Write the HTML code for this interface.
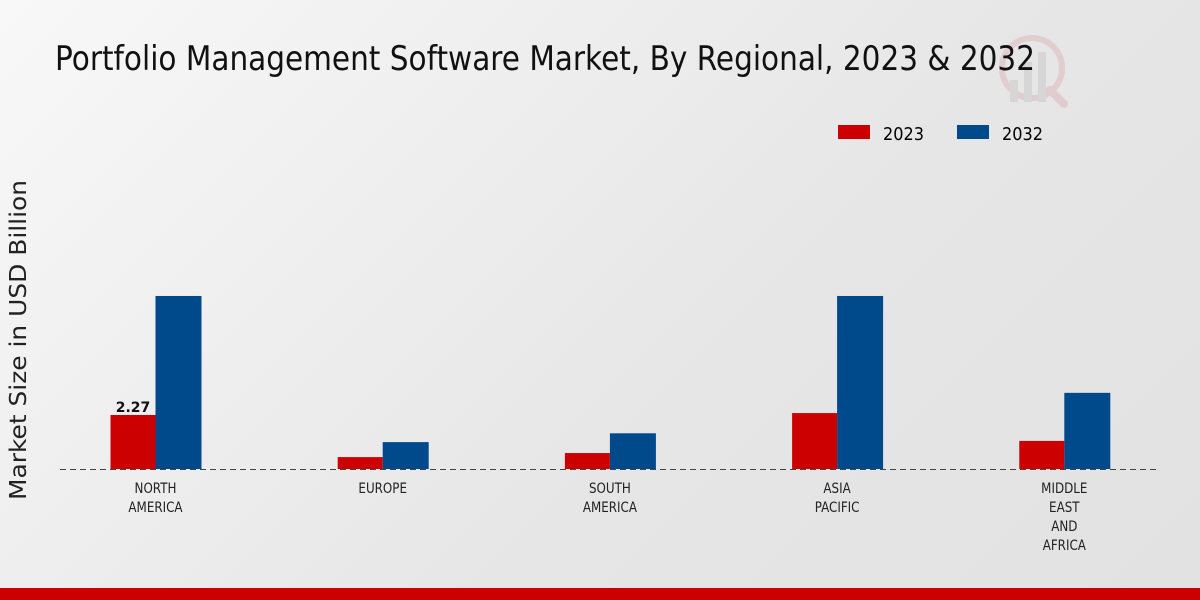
<!DOCTYPE html>
<html><head><meta charset="utf-8"><style>
html,body{margin:0;padding:0;width:1200px;height:600px;overflow:hidden}
body{background:linear-gradient(135deg,#f8f8f8 0%,#e6e6e6 60%,#e2e2e2 100%);font-family:"DejaVu Sans","Liberation Sans",sans-serif}
</style></head><body>
<svg id="chart" width="1200" height="600" xmlns="http://www.w3.org/2000/svg" font-family="DejaVu Sans, Liberation Sans, sans-serif">
<g opacity="0.35">
<circle cx="1032" cy="68" r="30" fill="none" stroke="#d9a0a0" stroke-width="6"/>
<rect x="1010" y="80" width="8" height="22" fill="#bbb"/><rect x="1024" y="62" width="8" height="40" fill="#bbb"/><rect x="1038" y="52" width="8" height="50" fill="#bbb"/>
<line x1="1050" y1="90" x2="1064" y2="104" stroke="#d9a0a0" stroke-width="8" stroke-linecap="round"/>
</g>
<text x="55" y="70" font-size="34" textLength="980" lengthAdjust="spacingAndGlyphs" fill="#111">Portfolio Management Software Market, By Regional, 2023 &amp; 2032</text>
<g>
<rect x="838" y="125" width="32" height="14" fill="#cc0000"/>
<text x="883" y="140" font-size="18" textLength="41" lengthAdjust="spacingAndGlyphs">2023</text>
<rect x="957" y="125" width="32" height="14" fill="#004a8c"/>
<text x="1002" y="140" font-size="18" textLength="41" lengthAdjust="spacingAndGlyphs">2032</text>
</g>
<text transform="translate(26,340) rotate(-90)" text-anchor="middle" font-size="23" textLength="320" lengthAdjust="spacingAndGlyphs" fill="#222">Market Size in USD Billion</text>
<g id="bars"></g>
<line x1="60" y1="469.5" x2="1160" y2="469.5" stroke="#444" stroke-dasharray="6,4" stroke-width="1"/>
<g id="labels"></g>
<rect x="0" y="588" width="1200" height="12" fill="#cc0000"/>
</svg>
<script>
const categories=[["NORTH","AMERICA"],["EUROPE"],["SOUTH","AMERICA"],["ASIA","PACIFIC"],["MIDDLE","EAST","AND","AFRICA"]];
const values2023=[2.27,0.5,0.67,2.35,1.18];
const values2032=[7.27,1.13,1.5,7.27,3.2];
const shownLabels=["2.27",null,null,null,null];
const NS="http://www.w3.org/2000/svg";
const base=469, pxPerUnit=23.8, first=155.5, step=227.2, bw=45;
const y=v=>base-v*pxPerUnit;
const xc=i=>first+i*step;
const bars=document.getElementById('bars'), labels=document.getElementById('labels');
function mk(t,a){const e=document.createElementNS(NS,t);for(const k in a)e.setAttribute(k,a[k]);return e;}
categories.forEach((c,i)=>{
  const r=mk('rect',{x:xc(i)-bw,y:y(values2023[i]),width:bw,height:values2023[i]*pxPerUnit,fill:'#cc0000'});
  
  
  bars.appendChild(r);
  const b=mk('rect',{x:xc(i),y:y(values2032[i]),width:bw+1,height:values2032[i]*pxPerUnit,fill:'#004a8c'});
  
  
  bars.appendChild(b);
  if(shownLabels[i]){
    const t=mk('text',{x:xc(i)-bw/2,y:y(values2023[i])-3,'text-anchor':'middle','font-size':'14','font-weight':'bold',fill:'#111'});
    t.textContent=shownLabels[i];
    
    
    bars.appendChild(t);
  }
  c.forEach((line,j)=>{
    const t=mk('text',{x:xc(i),y:493+j*19,'text-anchor':'middle','font-size':'14',fill:'#222',transform:`translate(${xc(i)},0) scale(0.85,1) translate(${-xc(i)},0)`});
    t.textContent=line;
    
    
    labels.appendChild(t);
  });
});
</script>
</body></html>
